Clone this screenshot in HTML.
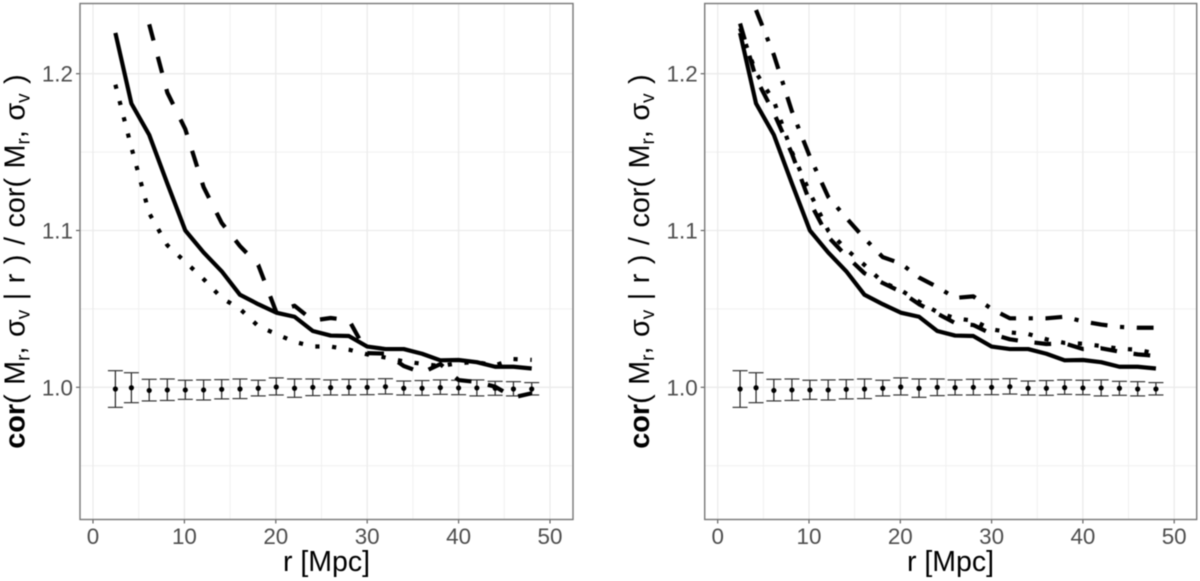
<!DOCTYPE html>
<html lang="en">
<head>
<meta charset="utf-8">
<title>Correlation ratio versus radius</title>
<style>
html,body{margin:0;padding:0;background:#fff;}
svg{display:block;font-family:"Liberation Sans",sans-serif;filter:blur(0.4px);}
</style>
</head>
<body>
<svg id="chart" width="1200" height="581" viewBox="0 0 1200 581" xmlns="http://www.w3.org/2000/svg">
  <g id="panel-left"></g>
  <g id="panel-right"></g>

  <text transform="translate(24.5,261.5) rotate(-90)" text-anchor="middle" font-size="28.8" word-spacing="1.5" fill="#000"><tspan font-weight="bold">cor</tspan>( M<tspan font-size="19" dy="5">r</tspan><tspan dy="-5">, σ</tspan><tspan font-size="19" dy="5">v</tspan><tspan dy="-5"> | r ) / cor( M</tspan><tspan font-size="19" dy="5">r</tspan><tspan dy="-5">, σ</tspan><tspan font-size="19" dy="5">v</tspan><tspan dy="-5"> )</tspan></text>
  <text transform="translate(649,261.5) rotate(-90)" text-anchor="middle" font-size="28.8" word-spacing="1.5" fill="#000"><tspan font-weight="bold">cor</tspan>( M<tspan font-size="19" dy="5">r</tspan><tspan dy="-5">, σ</tspan><tspan font-size="19" dy="5">v</tspan><tspan dy="-5"> | r ) / cor( M</tspan><tspan font-size="19" dy="5">r</tspan><tspan dy="-5">, σ</tspan><tspan font-size="19" dy="5">v</tspan><tspan dy="-5"> )</tspan></text>
  <text x="326.5" y="571" text-anchor="middle" font-size="28.5" fill="#000">r [Mpc]</text>
  <text x="950.5" y="571" text-anchor="middle" font-size="28.5" fill="#000">r [Mpc]</text>
</svg>
<script>
const radius = [2.45,4.2,6.15,8.13,10.1,12.1,14.08,16.08,18.08,20.05,22.05,24.05,26,28,30,32,34,36,38,40,42,44,46,48];

const solidValues = [1.226,1.181,1.161,1.130,1.100,1.086,1.074,1.059,1.053,1.0476,1.045,1.0359,1.033,1.0327,1.026,1.0244,1.0244,1.0214,1.0172,1.0174,1.016,1.0131,1.0131,1.012];
const leftDashedValues = [null,null,1.2315,1.188,1.1646,1.1277,1.1048,1.0901,1.078,1.048,1.052,1.0426,1.0442,1.0429,1.0218,1.0215,1.0136,1.0093,1.0148,1.0046,1.0034,1.0004,0.9936,0.9962];
const leftDottedValues = [1.193,1.153,1.111,1.0906,1.080,1.069,1.057,1.050,1.039,1.034,1.029,1.026,1.026,1.024,1.021,1.019,1.0165,1.015,1.0135,1.0155,1.016,1.014,1.018,1.0175];
const rightDashedValues = [1.232,1.197,1.175,1.149,1.118,1.096,1.0837,1.0727,1.0665,1.061,1.053,1.047,1.041,1.0397,1.034,1.0306,1.029,1.0276,1.028,1.0244,1.0249,1.0227,1.021,1.02];
const rightDottedValues = [1.229,1.2006,1.1826,1.150,1.124,1.0999,1.088,1.078,1.067,1.062,1.0546,1.048,1.044,1.0425,1.037,1.035,1.034,1.0306,1.0283,1.0278,1.0263,1.0246,1.024,1.0215];
const rightDotDashValues = [null,1.2406,1.212,1.176,1.147,1.1215,1.108,1.095,1.083,1.079,1.070,1.064,1.057,1.058,1.050,1.044,1.044,1.044,1.045,1.042,1.040,1.0385,1.038,1.038];

const errorCentre = [0.9989,0.9997,0.998,0.9983,0.9983,0.9983,0.9987,0.9989,0.9994,1.0002,0.9994,1.0,0.9998,1.0,1.0,1.0004,0.9994,0.9994,0.9998,0.9996,0.9996,0.9994,0.9989,0.9989];
const errorUpper = [1.0106,1.0093,1.0051,1.0053,1.0045,1.0047,1.0049,1.0053,1.0045,1.006,1.0053,1.0053,1.0047,1.0051,1.0051,1.0055,1.004,1.0043,1.0047,1.0045,1.0047,1.0038,1.0036,1.003];
const errorLower = [0.9872,0.9902,0.9913,0.9916,0.9923,0.9919,0.9926,0.9928,0.9945,0.9951,0.9936,0.9947,0.9951,0.9951,0.9953,0.9957,0.9951,0.9949,0.9955,0.9953,0.9945,0.9949,0.9945,0.9951];

const xTickValues = [0,10,20,30,40,50];
const xMinorValues = [5,15,25,35,45];
const yTickValues = [1.0,1.1,1.2];
const yMinorValues = [0.95,1.05,1.15];

const SVGNS = 'http://www.w3.org/2000/svg';

function make(parent, tag, attrs) {
  const el = document.createElementNS(SVGNS, tag);
  for (const k in attrs) el.setAttribute(k, attrs[k]);
  parent.appendChild(el);
  return el;
}

function drawPanel(group, box, lineSeries) {
  const sx = v => box.x0 + v * box.xUnit;
  const sy = v => 387.3 - (v - 1) * 1568;

  xMinorValues.forEach(v => {
    const l = make(group, 'line', {x1: sx(v), x2: sx(v), y1: box.top, y2: box.bottom, stroke: '#f0f0f0', 'stroke-width': 1});
    
    
  });
  yMinorValues.forEach(v => {
    const l = make(group, 'line', {x1: box.left, x2: box.right, y1: sy(v), y2: sy(v), stroke: '#f0f0f0', 'stroke-width': 1});
    
    
  });
  xTickValues.forEach(v => {
    const l = make(group, 'line', {x1: sx(v), x2: sx(v), y1: box.top, y2: box.bottom, stroke: '#ebebeb', 'stroke-width': 1.3});
    
    
    const t = make(group, 'line', {x1: sx(v), x2: sx(v), y1: box.bottom, y2: box.bottom + 4, stroke: '#555', 'stroke-width': 1.1});
    
    
    const label = make(group, 'text', {x: sx(v), y: 544, 'text-anchor': 'middle', 'font-size': 22.4, fill: '#4d4d4d'});
    label.textContent = String(v);
    
    
  });
  yTickValues.forEach(v => {
    const l = make(group, 'line', {x1: box.left, x2: box.right, y1: sy(v), y2: sy(v), stroke: '#ebebeb', 'stroke-width': 1.3});
    
    
    const t = make(group, 'line', {x1: box.left - 4, x2: box.left, y1: sy(v), y2: sy(v), stroke: '#555', 'stroke-width': 1.1});
    
    
    const label = make(group, 'text', {x: box.left - 7, y: sy(v) + 8, 'text-anchor': 'end', 'font-size': 22.4, fill: '#4d4d4d'});
    label.textContent = v.toFixed(1);
    
    
  });

  radius.forEach((r, i) => {
    const stem = make(group, 'line', {x1: sx(r), x2: sx(r), y1: sy(errorUpper[i]), y2: sy(errorLower[i]), stroke: '#222', 'stroke-width': 1.2});
    
    
    const capTop = make(group, 'line', {x1: sx(r) - 7.5, x2: sx(r) + 7.5, y1: sy(errorUpper[i]), y2: sy(errorUpper[i]), stroke: '#333', 'stroke-width': 1.2});
    
    
    const capBottom = make(group, 'line', {x1: sx(r) - 7.5, x2: sx(r) + 7.5, y1: sy(errorLower[i]), y2: sy(errorLower[i]), stroke: '#333', 'stroke-width': 1.2});
    
    
    const dot = make(group, 'circle', {cx: sx(r), cy: sy(errorCentre[i]), r: 2.6, fill: '#000'});
    
    
  });

  lineSeries.forEach(s => {
    const pts = [];
    radius.forEach((r, i) => {
      if (s.values[i] !== null) pts.push(sx(r).toFixed(2) + ',' + sy(s.values[i]).toFixed(2));
    });
    const line = make(group, 'polyline', {points: pts.join(' '), fill: 'none', stroke: '#000', 'stroke-width': 4.2, 'stroke-dasharray': s.dash, 'stroke-linejoin': 'round'});
    
    
  });

  const border = make(group, 'rect', {x: box.left, y: box.top, width: box.right - box.left, height: box.bottom - box.top, fill: 'none', stroke: '#777', 'stroke-width': 1.4});
  
  
}

drawPanel(document.getElementById('panel-left'),
  {x0: 93, xUnit: 9.14, left: 80, right: 573, top: 3.5, bottom: 519.5},
  [
    {name: 'solid-line', values: solidValues, dash: 'none'},
    {name: 'dashed-line', values: leftDashedValues, dash: '16.75 16.75'},
    {name: 'dotted-line', values: leftDottedValues, dash: '4.2 12.6'}
  ]);

drawPanel(document.getElementById('panel-right'),
  {x0: 717.7, xUnit: 9.13, left: 704.7, right: 1196.7, top: 3.5, bottom: 519.5},
  [
    {name: 'solid-line', values: solidValues, dash: 'none'},
    {name: 'dashed-line', values: rightDashedValues, dash: '16.75 16.75'},
    {name: 'dotted-line', values: rightDottedValues, dash: '4.2 12.6'},
    {name: 'dot-dash-line', values: rightDotDashValues, dash: '16.8 12.6 4.2 12.6'}
  ]);
</script>
</body>
</html>
